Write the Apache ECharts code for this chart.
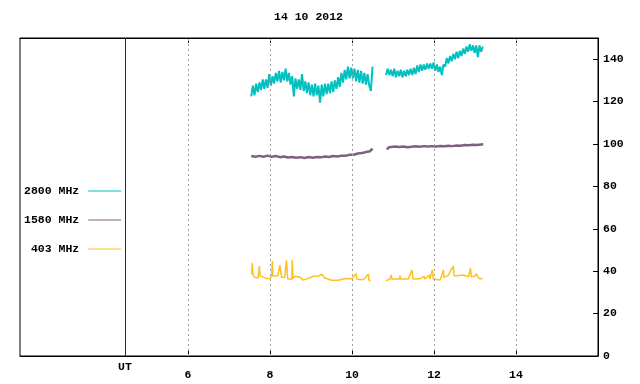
<!DOCTYPE html>
<html>
<head>
<meta charset="utf-8">
<script src="https://cdn.jsdelivr.net/npm/echarts@6/dist/echarts.min.js"></script>
<style>html,body{margin:0;padding:0;background:#fff}#c{width:640px;height:384px}</style>
</head>
<body>
<div id="c"></div>
<script>
// ---- data ----
const titleText = '14 10 2012';
const seriesNames = ['2800 MHz', '1580 MHz', '403 MHz'];
const xTickValues = [6, 8, 10, 12, 14];
const utPosition = 4.46;
const utLabel = 'UT';

// 2800 MHz: regularly sampled (hours, step 0.04 h)
const cyanStep = 0.04;
const cyan1Start = 7.54;
const cyan1 = [122.5,127.5,123,128.5,124.5,129,125.5,130.5,126,130.5,126.5,133,127.5,132,128.5,133.5,129.5,134.5,129,134,
  130,135.5,129.5,133.5,128,132,122.5,131,126,130.5,125.5,133,125,129.5,124,129,123,128,122.5,128.5,
  123,127.5,119.5,128,122.5,128.5,123.5,128.5,124,129.5,124.5,130,126,131.5,127,133.5,129,135,130.5,136.5,
  131,136,131,135.5,129.5,135,129,134.5,128.5,133.5,128,133,127.5,125,136.5];
const cyan2Start = 10.83;
const cyan2 = [132.5,135.5,132.5,135,132,135.5,131.5,134.5,132,135,131.5,134.5,132,135,132.5,135.5,132.5,136,133,137,
  134,137.5,134.5,137.5,135,138,135.5,138,135.5,138.5,134.5,137.5,134,136.5,132.5,137.5,136.5,140.5,138,141.5,
  139,142.5,140,143.5,140.5,144,141.5,145,142.5,146,143.5,147,144,146.5,143,146.5,141,146.5,143.5,146];

// 1580 MHz: [hour, value]
const purple1 = [[7.54,94.3],[7.64,94.0],[7.74,94.4],[7.84,94.0],[7.94,94.5],[8.04,94.0],[8.14,94.3],[8.24,93.8],
  [8.34,94.1],[8.44,93.6],[8.54,93.9],[8.64,93.5],[8.74,93.8],[8.84,93.4],[8.94,93.9],[9.04,93.5],[9.14,93.9],
  [9.24,93.7],[9.34,94.1],[9.44,93.9],[9.54,94.3],[9.64,94.1],[9.74,94.5],[9.84,94.4],[9.94,94.9],[10.04,94.9],
  [10.14,95.5],[10.24,95.7],[10.34,96.2],[10.44,96.6],[10.50,97.8]];
const purple2 = [[10.85,97.4],[10.90,98.5],[11.05,98.8],[11.15,98.6],[11.25,98.8],[11.35,98.5],[11.45,98.7],
  [11.55,98.9],[11.65,98.7],[11.75,99.0],[11.85,98.8],[11.95,99.0],[12.05,98.8],[12.15,99.1],[12.25,98.9],
  [12.35,99.2],[12.45,99.0],[12.55,99.3],[12.65,99.2],[12.75,99.5],[12.85,99.4],[12.95,99.6],[13.05,99.5],
  [13.15,99.8],[13.2,99.9]];

// 403 MHz: [hour, value]
const orange1 = [[7.55,38.5],[7.566,43.9],[7.585,38.0],[7.63,37.0],[7.71,36.9],[7.74,42.4],[7.755,37.9],[7.83,37.2],
  [7.90,36.6],[8.0,36.6],[8.04,37.7],[8.055,44.8],[8.07,37.7],[8.19,37.8],[8.24,42.9],[8.28,37.1],[8.36,37.1],
  [8.40,45.3],[8.43,36.4],[8.53,36.1],[8.54,45.3],[8.56,36.5],[8.61,37.6],[8.73,37.2],[8.81,35.8],[8.93,36.6],
  [9.06,37.6],[9.18,37.7],[9.26,38.6],[9.34,36.8],[9.50,35.7],[9.67,35.7],[9.83,36.6],[9.99,36.4],[10.1,38.8],
  [10.12,36.2],[10.27,36.0],[10.40,38.6],[10.41,35.9],[10.45,35.4]];
const orange2 = [[10.83,35.4],[10.88,36.0],[10.93,36.3],[10.95,38.2],[10.975,36.3],[11.16,36.3],[11.17,37.9],
  [11.18,36.3],[11.37,36.3],[11.46,40.6],[11.49,36.3],[11.66,36.4],[11.76,37.6],[11.78,36.3],[11.89,38.2],
  [11.90,36.3],[11.96,40.6],[11.98,36.3],[12.02,35.6],[12.15,35.8],[12.23,40.6],[12.24,37.1],[12.34,37.9],
  [12.47,42.4],[12.49,37.9],[12.55,37.9],[12.59,38.7],[12.71,38.2],[12.84,37.4],[12.89,41.4],[12.91,37.4],
  [13.0,37.7],[13.04,38.8],[13.06,37.5],[13.12,36.3],[13.18,36.6]];

const colors = ['#00c0c0', '#806080', '#ffc020'];

// ---- build ----
function regular(start, step, vals) { return vals.map((v, i) => [+(start + i * step).toFixed(3), v]); }
const gap = [10.66, null];
const cyanData = regular(cyan1Start, cyanStep, cyan1).concat([gap], regular(cyan2Start, cyanStep, cyan2));
const purpleData = purple1.concat([gap], purple2);
const orangeData = orange1.concat([gap], orange2);

const FONT = 'Liberation Mono';
const txt = { fontFamily: FONT, fontSize: 11.5, fontWeight: 'bold', color: '#000' };

const chart = echarts.init(document.getElementById('c'), null, { renderer: 'canvas' });
chart.setOption({
  animation: false,
  backgroundColor: '#fff',
  color: colors,
  title: { text: titleText, left: 274, top: 11, padding: 0, textStyle: Object.assign({}, txt) },
  grid: { left: 20, right: 42, top: 38, bottom: 28, show: true, borderColor: '#000', borderWidth: 1, backgroundColor: 'transparent' },
  legend: {
    data: seriesNames, left: 24, top: 185, orient: 'vertical', itemGap: 17, align: 'right', padding: 0,
    itemWidth: 33, itemHeight: 14, selectedMode: false,
    lineStyle: { width: 1 },
    itemStyle: { opacity: 0 },
    formatter: n => '{a|' + n + '}',
    textStyle: Object.assign({ rich: { a: Object.assign({ width: 59, align: 'right', padding: [0, 4, 0, 0] }, txt) } }, txt)
  },
  xAxis: [
    { type: 'value', position: 'bottom', min: 1.9, max: 16,
      axisLine: { show: true, lineStyle: { color: '#000' } },
      axisTick: { show: true, inside: true, length: 5, customValues: xTickValues, lineStyle: { color: '#000' } },
      axisLabel: { show: true, customValues: xTickValues, margin: 13, ...txt },
      splitLine: { show: false } },
    { type: 'value', position: 'top', min: 1.9, max: 16,
      axisLine: { show: true, lineStyle: { color: '#000' } },
      axisTick: { show: true, inside: true, length: 5, customValues: xTickValues, lineStyle: { color: '#000' } },
      axisLabel: { show: false }, splitLine: { show: false } }
  ],
  yAxis: { type: 'value', position: 'right', min: 0, max: 150, interval: 20,
    axisLine: { show: true, lineStyle: { color: '#000' } },
    axisTick: { show: true, inside: true, length: 5, lineStyle: { color: '#000' } },
    axisLabel: { show: true, margin: 5, showMaxLabel: false, ...txt },
    splitLine: { show: false } },
  series: [
    { name: seriesNames[0], type: 'line', data: cyanData, showSymbol: false, symbol: 'none', connectNulls: false,
      lineStyle: { width: 2, color: colors[0] }, z: 2 },
    { name: seriesNames[1], type: 'line', data: purpleData, showSymbol: false, symbol: 'none', connectNulls: false,
      lineStyle: { width: 2.5, color: colors[1] }, z: 2 },
    { name: seriesNames[2], type: 'line', data: orangeData, showSymbol: false, symbol: 'none', connectNulls: false,
      lineStyle: { width: 1.5, color: colors[2] }, z: 2 },
    { name: 'grid', type: 'line', data: [], z: 3, silent: true,
      markLine: { silent: true, symbol: 'none', animation: false,
        label: { show: false },
        lineStyle: { color: '#a0a0a0', type: [2, 3], width: 1 },
        data: xTickValues.map(v => ({ xAxis: v })).concat([{
          xAxis: utPosition,
          lineStyle: { color: '#8b0000', type: 'solid', width: 1 },
          label: { show: true, position: 'start', distance: 5, formatter: utLabel, ...txt }
        }]) } }
  ]
});
</script>
</body>
</html>
